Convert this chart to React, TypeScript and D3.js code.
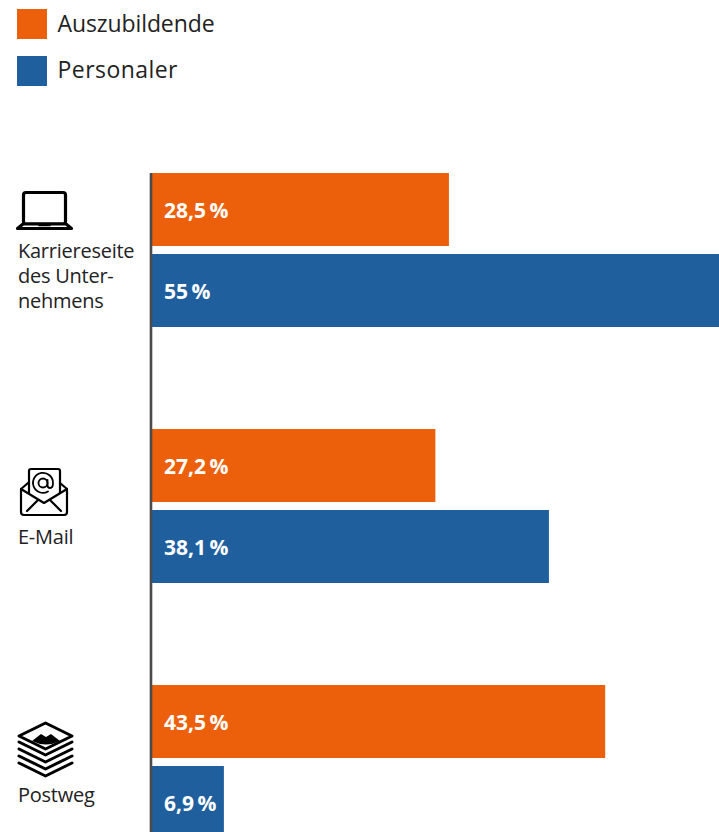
import React from "react";
import * as d3 from "d3";

const channels = ["Karriereseite", "E-Mail", "Postweg"];
const channelLines = [["Karriereseite", "des Unter-", "nehmens"], ["E-Mail"], ["Postweg"]];
const seriesNames = ["Auszubildende", "Personaler"];
const seriesColors = ["#ec5f0b", "#1f5f9e"];
const auszubildende = [28.5, 27.2, 43.5];
const personaler = [55, 38.1, 6.9];
const valueLabels = [["28,5\u2009%", "55\u2009%"], ["27,2\u2009%", "38,1\u2009%"], ["43,5\u2009%", "6,9\u2009%"]];

const W = 719;
const H = 832;
const FONT = "'Open Sans', sans-serif";

const x = d3.scaleLinear().domain([0, 55]).range([152, 725]);
const groupY = d3.scalePoint<string>().domain(channels).range([173, 685]);
const barY = d3.scaleBand<number>().domain([0, 1]).range([0, 154]).paddingInner(8 / 81).paddingOuter(0);

function Laptop() {
  return (
    <g fill="none" stroke="#000" strokeLinejoin="round" strokeLinecap="round">
      <rect x={23.5} y={192.5} width={42} height={31.5} rx={2.5} strokeWidth={3.2} />
      <path d="M17.5 228.5 L23 224 H66 L71.5 228.5 Z" strokeWidth={3.2} fill="#fff" />
      <path d="M39 225.5 H50" strokeWidth={1.6} />
    </g>
  );
}

function Envelope() {
  return (
    <g fill="none" stroke="#000" strokeLinejoin="round" strokeLinecap="round" strokeWidth={2.2}>
      <path d="M21 489 V512 Q21 515 24 515 H64 Q67 515 67 512 V489 L60 483" />
      <path d="M28 483 L21 489 L44 503 L67 489" />
      <path d="M29 493 V471 Q29 469 31 469 H58 Q60 469 60 471 V493" />
      <path d="M27 511 L38 500 M61 511 L50 500" />
      <circle cx={43} cy={483} r={4.5} strokeWidth={1.8} />
      <path d="M47.5 480 V485 Q47.5 488 50 488 Q53 488 53 483 A10 10 0 1 0 48 491.5" strokeWidth={1.8} />
    </g>
  );
}

function PaperStack() {
  const layers = [742, 749, 756, 763];
  return (
    <g fill="none" stroke="#000" strokeWidth={3} strokeLinejoin="round" strokeLinecap="round">
      <path d="M45.5 723 L72 736 L45.5 749 L19 736 Z" />
      <path d="M32 741 L41 734 L46 737 L51 734 L60 741 Q46 748 32 741 Z" fill="#000" stroke="none" />
      {layers.map((y) => (
        <path key={y} d={`M19 ${y} L45.5 ${y + 13} L72 ${y}`} />
      ))}
    </g>
  );
}

const icons = [<Laptop key="laptop" />, <Envelope key="mail" />, <PaperStack key="paper" />];
const labelBaselines = [257.5, 543.5, 801.5];

export default function App() {
  return (
    <svg width={W} height={H} viewBox={`0 0 ${W} ${H}`} style={{ position: "absolute", left: 0, top: 0, background: "#fff" }} fontFamily={FONT}>
      {seriesNames.map((name, i) => (
        <g key={name}>
          <rect x={17} y={9 + i * 47} width={30} height={30} fill={seriesColors[i]} />
          <text x={57.5} y={32 + i * 45.5} fontSize={23} letterSpacing={i === 0 ? -0.1 : 0.45} fill="#222">{name}</text>
        </g>
      ))}

      {channels.map((channel, c) => (
        <g key={channel}>
          {[auszubildende[c], personaler[c]].map((value, s) => {
            const y0 = groupY(channel)! + barY(s)!;
            return (
              <g key={s}>
                <rect x={x(0)} y={y0} width={x(value) - x(0)} height={barY.bandwidth()} fill={seriesColors[s]} />
                <text x={164} y={y0 + barY.bandwidth() / 2 + 8} fontSize={21} fontWeight={700} fill="#fff">
                  {valueLabels[c][s]}
                </text>
              </g>
            );
          })}
          {icons[c]}
          {channelLines[c].map((line, l) => (
            <text key={line} x={18} y={labelBaselines[c] + l * 25} fontSize={20} letterSpacing={-0.25} fill="#222">{line}</text>
          ))}
        </g>
      ))}

      <line x1={151} x2={151} y1={173} y2={H} stroke="#4a4a4a" strokeWidth={2.6} />
    </svg>
  );
}
